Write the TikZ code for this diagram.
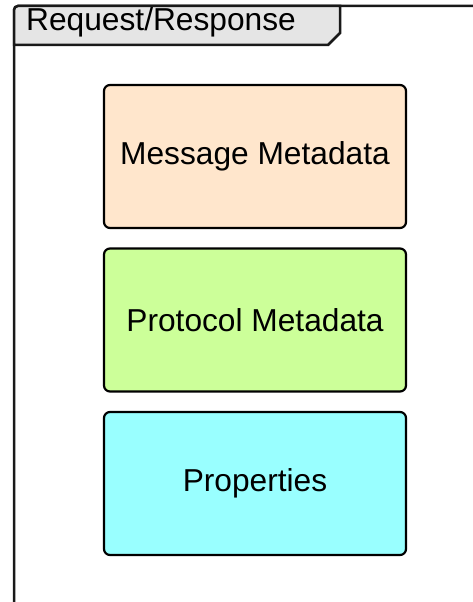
\documentclass[tikz,border=0pt]{standalone}
\usepackage{fontspec}
\setmainfont{Liberation Sans}
\begin{document}
\begin{tikzpicture}[x=1pt,y=-1pt,
  part/.style={draw=black, line width=2.2pt, rounded corners=6pt, minimum width=302pt, minimum height=143pt, inner sep=0pt, font=\fontsize{31.7}{38}\selectfont},
  frameline/.style={draw=black!90, line width=2.5pt}]
\useasboundingbox (0,0) rectangle (473,602);
% frame
\fill[white] (14,6) rectangle (473,602);
\draw[frameline, rounded corners=4pt] (14,602) -- (14,6) -- (473,6);
\draw[frameline, fill=black!10] (14,45) -- (14,12) [rounded corners=4pt] -- (14,6) [sharp corners] -- (340,6) -- (340,33) -- (328,45) -- cycle;
\node[anchor=west, inner sep=0pt, font=\fontsize{31.7}{38}\selectfont] (title) at (26,22) {Request/Response};
\node[part, fill={rgb,255:red,255;green,230;blue,204}] (msg) at (255,156.5) {Message Metadata};
\node[part, fill={rgb,255:red,204;green,255;blue,153}] (proto) at (255,320) {Protocol Metadata};
\node[part, fill={rgb,255:red,153;green,255;blue,255}] (props) at (255,483.5) {Properties};
\end{tikzpicture}
\end{document}
